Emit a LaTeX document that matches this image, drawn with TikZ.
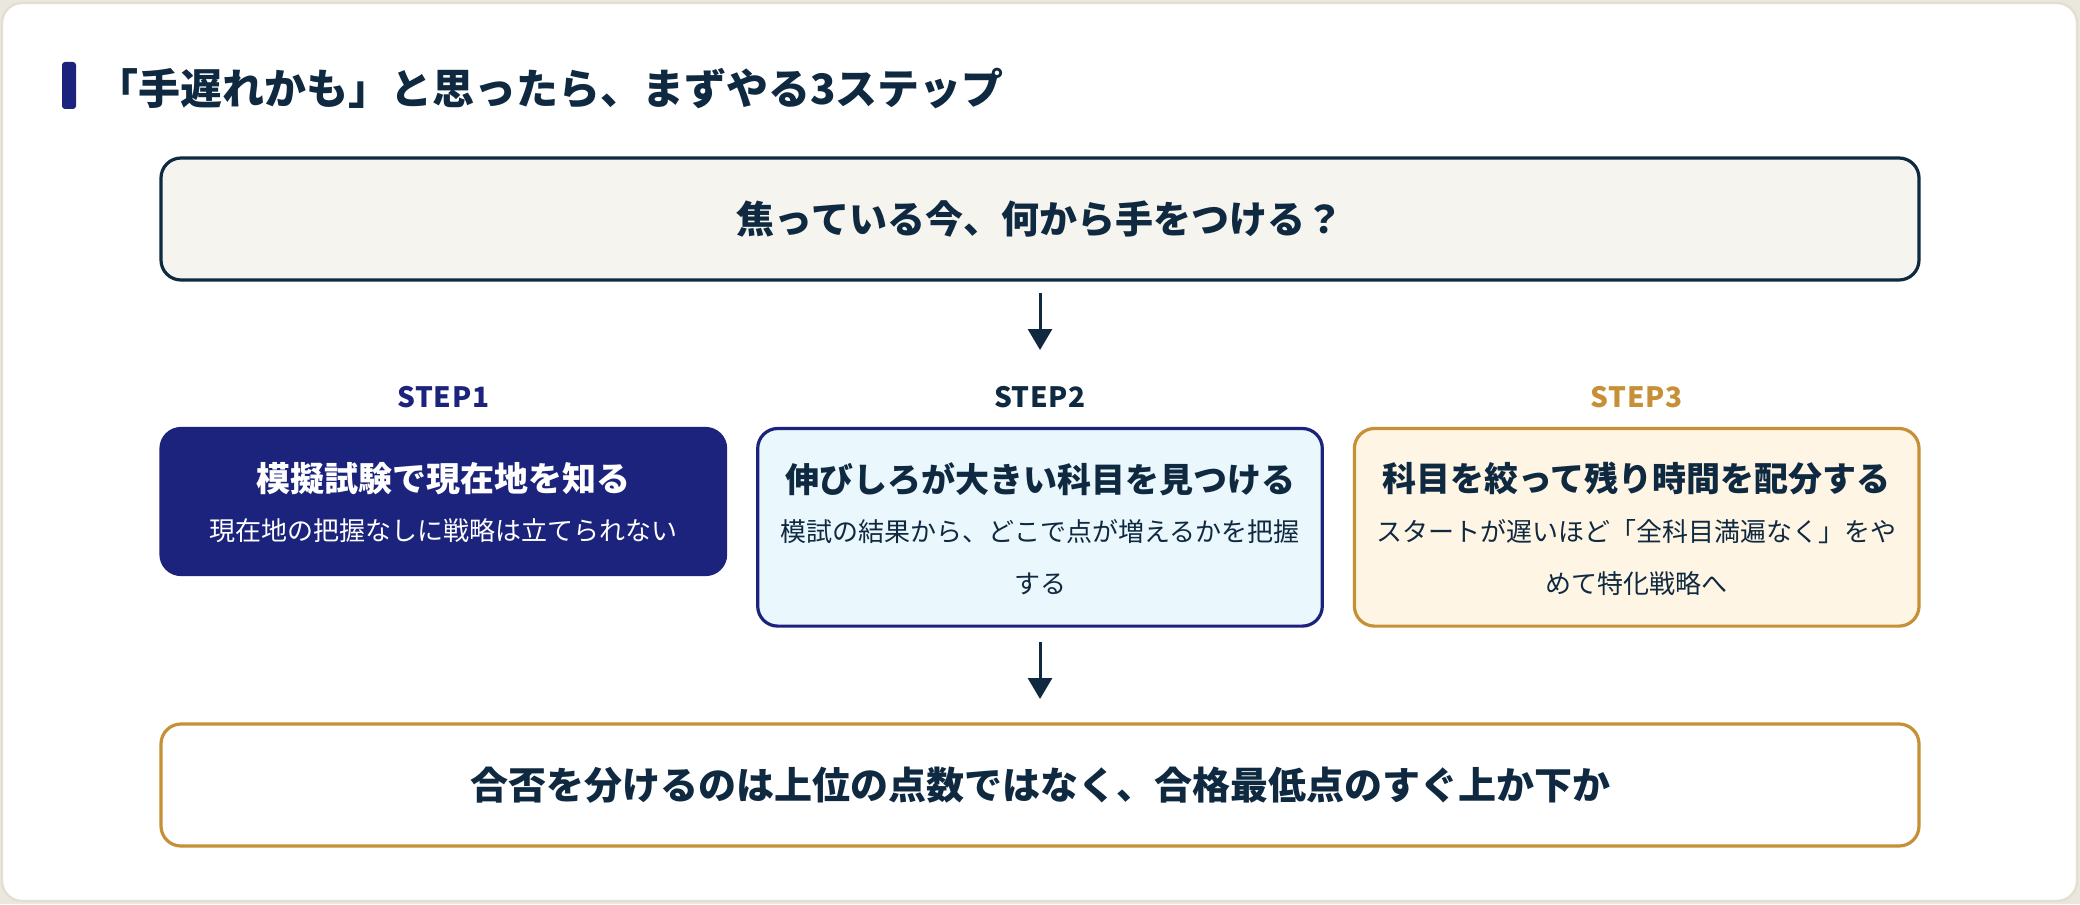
\documentclass[tikz,border=0pt]{standalone}
\usepackage{fontspec}
\setmainfont{Noto Sans CJK JP}
\usetikzlibrary{arrows.meta}
\definecolor{navy}{HTML}{1C237C}
\definecolor{dark}{HTML}{0F2940}
\definecolor{gold}{HTML}{C59036}
\definecolor{lblue}{HTML}{EAF7FD}
\definecolor{cream}{HTML}{FFF5E4}
\definecolor{topfill}{HTML}{F5F4EF}
\definecolor{bgc}{HTML}{EAE8DD}
\definecolor{cardline}{HTML}{E2DFD2}
\tikzset{
  box/.style={rectangle, rounded corners=10pt, line width=1.6pt, inner sep=0pt},
  wide/.style={box, minimum width=879pt, minimum height=61pt},
  stepbox/.style={box, minimum width=282.3pt},
  arr/.style={draw=dark, line width=1.5pt, -{Triangle[width=12pt,length=10.5pt]}},
  ttl/.style={inner sep=0pt, font=\fontsize{21}{25}\selectfont\bfseries, text=dark},
  bigtxt/.style={inner sep=0pt, font=\fontsize{19}{23}\selectfont\bfseries, text=dark},
  steplbl/.style={inner sep=0pt, font=\fontsize{14}{16}\selectfont\bfseries\addfontfeature{LetterSpace=2.5}},
  boxttl/.style={inner sep=0pt, font=\fontsize{17}{20}\selectfont\bfseries},
  boxsub/.style={inner sep=0pt, font=\fontsize{13}{16}\selectfont},
}
\begin{document}
\begin{tikzpicture}[x=0.5pt,y=-0.5pt]
\useasboundingbox (0,0) rectangle (2080,904);
\fill[bgc] (0,0) rectangle (2080,904);
\draw[fill=white, draw=cardline, line width=1.2pt, rounded corners=10pt] (2,3) rectangle (2077,901);
% title
\fill[navy, rounded corners=1.5pt] (62,62) rectangle (76,109);
\node[ttl, anchor=west] (title) at (96,88.9) {「手遅れかも」と思ったら、まずやる3ステップ};
% top box
\node[wide, draw=dark, fill=topfill] (top) at (1040,219) {};
\node[bigtxt] (toptxt) at (top.center) {焦っている今、何から手をつける？};
\coordinate (a1s) at (1040,293);
\coordinate (a1e) at (1040,350);
\draw[arr] (a1s) -- (a1e);
% step labels
\node[steplbl, text=navy] (s1) at (443.3,396.6) {STEP1};
\node[steplbl, text=dark] (s2) at (1040,396.6) {STEP2};
\node[steplbl, text=gold] (s3) at (1636.7,396.6) {STEP3};
% step boxes
\node[stepbox, minimum height=73pt, fill=navy, draw=navy] (b1) at (443.3,501.5) {};
\node[stepbox, minimum height=98.8pt, fill=lblue, draw=navy] (b2) at (1040,527.3) {};
\node[stepbox, minimum height=98.8pt, fill=cream, draw=gold] (b3) at (1636.7,527.3) {};
\node[boxttl, text=white] (b1t) at (443.3,478.9) {模擬試験で現在地を知る};
\node[boxsub, text=white] (b1s) at (443.3,530.6) {現在地の把握なしに戦略は立てられない};
\node[boxttl, text=dark] (b2t) at (1040,478.9) {伸びしろが大きい科目を見つける};
\node[boxsub, text=dark] (b2s1) at (1040,532) {模試の結果から、どこで点が増えるかを把握};
\node[boxsub, text=dark] (b2s2) at (1040,583.7) {する};
\node[boxttl, text=dark] (b3t) at (1636.7,478.9) {科目を絞って残り時間を配分する};
\node[boxsub, text=dark] (b3s1) at (1636.7,532) {スタートが遅いほど「全科目満遍なく」をや};
\node[boxsub, text=dark] (b3s2) at (1636.7,583.7) {めて特化戦略へ};
% arrow 2
\coordinate (a2s) at (1040,642);
\coordinate (a2e) at (1040,699);
\draw[arr] (a2s) -- (a2e);
% bottom
\node[wide, draw=gold, fill=white] (bot) at (1040,785) {};
\node[bigtxt] (bottxt) at (bot.center) {合否を分けるのは上位の点数ではなく、合格最低点のすぐ上か下か};
\end{tikzpicture}
\end{document}
